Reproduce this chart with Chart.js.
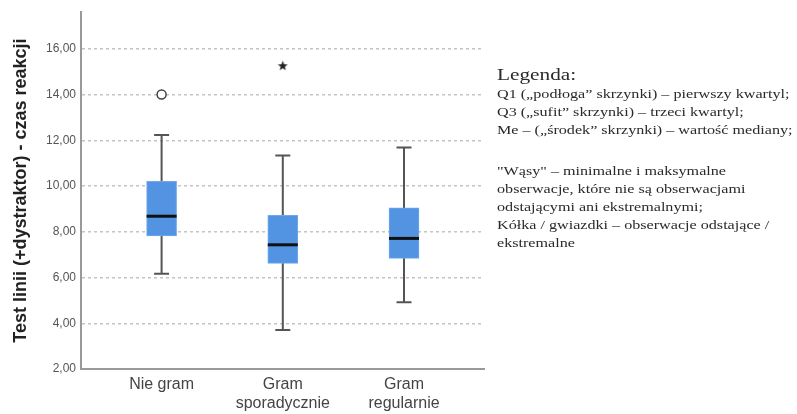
<!DOCTYPE html>
<html><head><meta charset="utf-8">
<script src="https://cdn.jsdelivr.net/npm/chart.js@4/dist/chart.umd.min.js"></script>
<style>
html,body{margin:0;padding:0;background:#fff;}
#wrap{position:relative;width:797px;height:414px;overflow:hidden;}
#legend{position:absolute;left:497px;top:64.5px;font-family:"Liberation Serif","Times New Roman",serif;color:#2a2a2a;font-size:12.5px;line-height:18px;white-space:nowrap;transform:scaleX(1.29);transform-origin:0 0;}
#legend .h{font-size:16.5px;line-height:20px;}
#legend .gap{height:23.3px;}
</style></head><body>
<div id="wrap"><canvas id="c" width="797" height="414"></canvas>
<div id="legend">
<div class="h">Legenda:</div>
<div>Q1 („podłoga” skrzynki) – pierwszy kwartyl;</div>
<div>Q3 („sufit” skrzynki) – trzeci kwartyl;</div>
<div>Me – („środek” skrzynki) – wartość mediany;</div>
<div class="gap"></div>
<div>"Wąsy" – minimalne i maksymalne</div>
<div>obserwacje, które nie są obserwacjami</div>
<div>odstającymi ani ekstremalnymi;</div>
<div>Kółka / gwiazdki – obserwacje odstające /</div>
<div>ekstremalne</div>
</div></div>
<script>
const categories = [["Nie gram"], ["Gram", "sporadycznie"], ["Gram", "regularnie"]];
const q1 = [7.82, 6.62, 6.84];
const median = [8.68, 7.43, 7.71];
const q3 = [10.20, 8.72, 9.05];
const whiskerLow = [6.16, 3.70, 4.92];
const whiskerHigh = [12.23, 11.33, 11.68];
const outlierCircles = [{ cat: 0, value: 14.0 }];
const outlierStars = [{ cat: 1, value: 15.26 }];
const yTickValues = [2, 4, 6, 8, 10, 12, 14, 16];
const yTitle = "Test linii (+dystraktor) - czas reakcji";

// 5-point star point style
const starImg = document.createElement('canvas');
starImg.width = 11; starImg.height = 11;
(function () {
  const g = starImg.getContext('2d');
  g.fillStyle = '#222';
  g.beginPath();
  for (let i = 0; i < 10; i++) {
    const r = i % 2 === 0 ? 5.2 : 2.2;
    const a = -Math.PI / 2 + i * Math.PI / 5;
    const px = 5.5 + r * Math.cos(a), py = 5.8 + r * Math.sin(a);
    if (i === 0) g.moveTo(px, py); else g.lineTo(px, py);
  }
  g.closePath(); g.fill();
})();

const boxPlugin = {
  id: 'boxParts',
  beforeDatasetsDraw(chart) {
    const { ctx, scales: { x, y } } = chart;
    ctx.save();
    ctx.strokeStyle = '#555';
    ctx.lineWidth = 2;
    categories.forEach((c, i) => {
      const cx = x.getPixelForValue(i + 1);
      const lo = y.getPixelForValue(whiskerLow[i]);
      const hi = y.getPixelForValue(whiskerHigh[i]);
      ctx.beginPath();
      ctx.moveTo(cx, lo); ctx.lineTo(cx, hi);
      ctx.moveTo(cx - 7.5, lo); ctx.lineTo(cx + 7.5, lo);
      ctx.moveTo(cx - 7.5, hi); ctx.lineTo(cx + 7.5, hi);
      ctx.stroke();
    });
    ctx.restore();
  },
  afterDatasetsDraw(chart) {
    const { ctx, scales: { x, y } } = chart;
    ctx.save();
    ctx.strokeStyle = '#111';
    ctx.lineWidth = 3;
    categories.forEach((c, i) => {
      const cx = x.getPixelForValue(i + 1);
      const m = y.getPixelForValue(median[i]);
      ctx.beginPath();
      ctx.moveTo(cx - 15, m); ctx.lineTo(cx + 15, m);
      ctx.stroke();
    });
    ctx.restore();
  }
};

new Chart(document.getElementById('c'), {
  type: 'bar',
  data: {
    datasets: [
      {
        type: 'scatter',
        order: 0,
        data: outlierCircles.map(o => ({ x: o.cat + 1, y: o.value })),
        pointStyle: 'circle',
        pointRadius: 4.5,
        borderColor: '#444',
        borderWidth: 1.5,
        backgroundColor: '#fff'
      },
      {
        type: 'scatter',
        order: 0,
        data: outlierStars.map(o => ({ x: o.cat + 1, y: o.value })),
        pointStyle: starImg,
        pointRadius: 5
      },
      {
        type: 'bar',
        order: 1,
        grouped: false,
        data: categories.map((c, i) => ({ x: i + 1, y: [q1[i], q3[i]] })),
        barThickness: 30,
        backgroundColor: '#5294e2',
        borderColor: '#6fa8ee',
        borderWidth: 1,
        borderSkipped: false
      }
    ]
  },
  options: {
    responsive: false,
    animation: false,
    events: [],
    layout: { padding: { top: 10, right: 313, left: 0, bottom: 0 } },
    plugins: { legend: { display: false }, tooltip: { enabled: false } },
    scales: {
      x: {
        type: 'linear',
        offset: false,
        min: 0.335,
        max: 3.66,
        afterBuildTicks: s => { s.ticks = categories.map((c, i) => ({ value: i + 1 })); },
        afterFit: s => { s.height = 45; },
        ticks: {
          autoSkip: false,
          maxRotation: 0,
          padding: 6,
          color: '#444',
          font: { family: 'Liberation Sans, Arial, sans-serif', size: 16, lineHeight: 1.2 },
          callback: v => categories[Math.round(v) - 1]
        },
        grid: { display: false, drawTicks: false, offset: false },
        border: { display: true, color: '#999', width: 2 }
      },
      y: {
        type: 'linear',
        min: 2,
        max: 17.6,
        afterBuildTicks: s => { s.ticks = yTickValues.map(v => ({ value: v })); },
        afterFit: s => { s.width = 81; },
        ticks: {
          padding: 5,
          color: '#555',
          font: { family: 'Liberation Sans, Arial, sans-serif', size: 12 },
          callback: v => v.toFixed(2).replace('.', ',')
        },
        grid: {
          drawTicks: false,
          lineWidth: 1.5,
          color: c => (c.tick && c.tick.value === 2) ? 'rgba(0,0,0,0)' : '#c4c4c4'
        },
        border: { display: true, color: '#999', width: 2, dash: [3, 3] },
        title: {
          display: true,
          text: yTitle,
          color: '#222',
          font: { family: 'Liberation Sans, Arial, sans-serif', size: 18, weight: 'bold' },
          padding: { top: 10, bottom: 0 }
        }
      }
    }
  },
  plugins: [boxPlugin]
});
</script>
</body></html>
